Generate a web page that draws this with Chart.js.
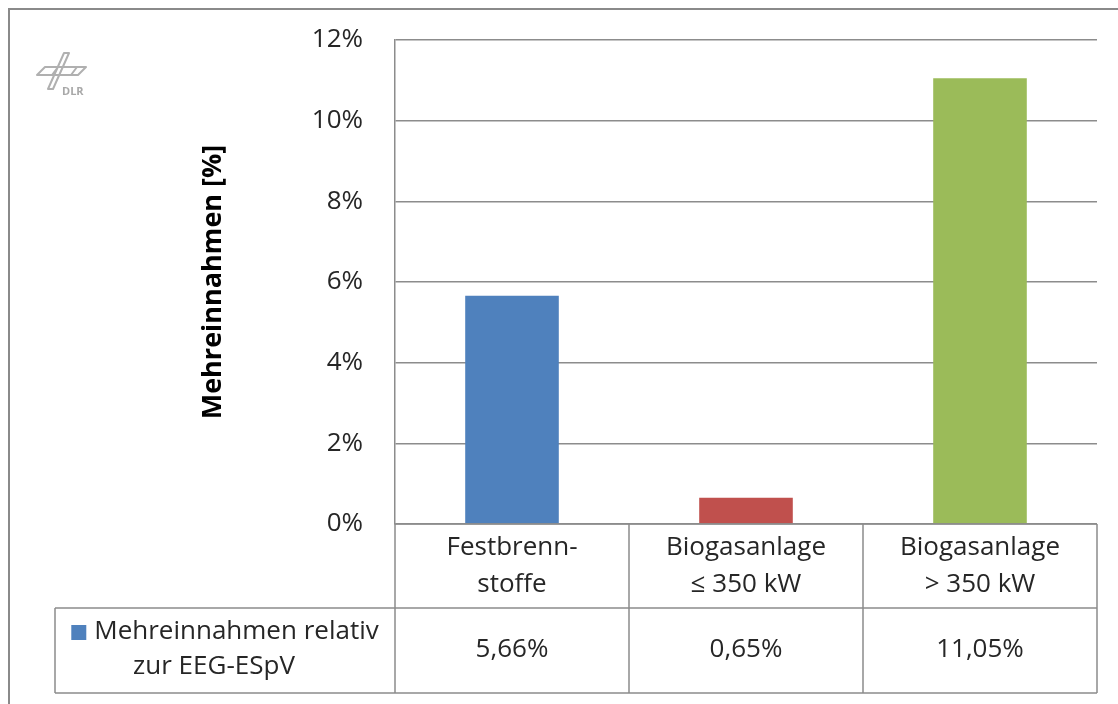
<!DOCTYPE html>
<html>
<head>
<meta charset="utf-8">
<script src="https://cdn.jsdelivr.net/npm/chart.js@4"></script>
<style>
  body { margin: 0; background: #fff; }
  #wrap { width: 1118px; height: 704px; position: relative; }
</style>
</head>
<body>
<div id="wrap"><canvas id="chart"></canvas></div>
<script>
// Mehreinnahmen relativ zur EEG-ESpV

const categories = [['Festbrenn-', 'stoffe'], ['Biogasanlage', '\u2264 350 kW'], ['Biogasanlage', '> 350 kW']];
const values = [5.66, 0.65, 11.05];
const barColors = ['#4F81BD', '#C0504D', '#9BBB59'];
const seriesName = ['Mehreinnahmen relativ', 'zur EEG-ESpV'];
const yTicks = [0, 2, 4, 6, 8, 10, 12];

const FONT = '"Open Sans", sans-serif';
const LINE = '#8c8c8c';
const TEXT = '#262626';

function fmt(v) { return v.toFixed(2).replace('.', ',') + '%'; }

// frame, DLR logo and the data table under the plot
const tablePlugin = {
    id: 'dataTable',
    afterDraw(chart) {
        const ctx = chart.ctx;
        const x = chart.scales.x;
        const area = chart.chartArea;
        const n = categories.length;
        const w = (x.right - x.left) / n;
        const top = area.bottom, mid = top + 84, bot = top + 169, legL = 55;

        ctx.save();
        // outer frame
        ctx.strokeStyle = '#8a8a8a';
        ctx.lineWidth = 2;
        ctx.strokeRect(9, 9, 1130, 720);

        // logo
        ctx.strokeStyle = '#b0b0b0';
        ctx.lineWidth = 2;
        ctx.lineJoin = 'round';
        ctx.beginPath();
        // wing
        ctx.moveTo(37, 75); ctx.lineTo(45, 67); ctx.lineTo(86, 67); ctx.lineTo(78, 75); ctx.closePath();
        // fuselage
        ctx.moveTo(64, 53); ctx.lineTo(69, 53); ctx.lineTo(53, 89); ctx.lineTo(48, 89); ctx.closePath();
        // wing segments
        ctx.moveTo(52, 75); ctx.lineTo(58, 67);
        ctx.moveTo(71, 75); ctx.lineTo(77, 67);
        ctx.stroke();
        ctx.fillStyle = '#a8a8a8';
        ctx.font = 'bold 11px ' + FONT;
        ctx.textAlign = 'left';
        ctx.textBaseline = 'middle';
        ctx.fillText('DLR', 62, 92);

        // table grid
        ctx.strokeStyle = LINE;
        ctx.lineWidth = 1.5;
        ctx.beginPath();
        ctx.moveTo(x.left, top); ctx.lineTo(x.right, top);
        ctx.moveTo(legL, mid); ctx.lineTo(x.right, mid);
        ctx.moveTo(legL, bot); ctx.lineTo(x.right, bot);
        ctx.moveTo(legL, mid); ctx.lineTo(legL, bot);
        for (let i = 0; i <= n; i++) {
            const px = Math.round(x.left + i * w);
            ctx.moveTo(px, top); ctx.lineTo(px, bot);
        }
        ctx.stroke();

        // category labels and values
        ctx.fillStyle = TEXT;
        ctx.font = '26px ' + FONT;
        ctx.textAlign = 'center';
        categories.forEach((lines, i) => {
            const cx = x.getPixelForValue(i);
            lines.forEach((t, j) => ctx.fillText(t, cx, top + 24 + j * 37));
            ctx.fillText(fmt(values[i]), cx, mid + 42);
        });

        // legend cell
        const lx = (legL + x.left) / 2;
        const w1 = ctx.measureText(seriesName[0]).width;
        const key = 15, gap = 8;
        const startX = lx - (w1 + key + gap) / 2;
        ctx.fillStyle = barColors[0];
        ctx.fillRect(startX, mid + 17, key, key);
        ctx.fillStyle = TEXT;
        ctx.textAlign = 'left';
        ctx.fillText(seriesName[0], startX + key + gap, mid + 24);
        ctx.textAlign = 'center';
        ctx.fillText(seriesName[1], lx - 11, mid + 59);
        ctx.restore();
    }
};

new Chart(document.getElementById('chart'), {
    type: 'bar',
    data: {
        labels: categories.map(c => c.join(' ')),
        datasets: [{
            label: seriesName.join(' '),
            data: values,
            backgroundColor: barColors,
            barPercentage: 0.4,
            categoryPercentage: 1.0
        }]
    },
    options: {
        responsive: true,
        maintainAspectRatio: false,
        animation: false,
        layout: { padding: { top: 40, right: 21, bottom: 180, left: 0 } },
        plugins: { legend: { display: false }, tooltip: { enabled: false } },
        scales: {
            x: { display: false },
            y: {
                min: 0, max: 12,
                afterFit: s => { s.width = 395; s.paddingTop = 0; s.paddingBottom = 0; },
                afterBuildTicks: s => { s.ticks = yTicks.map(v => ({ value: v })); },
                ticks: { padding: 32, color: TEXT, font: { family: FONT, size: 26 }, callback: v => v + '%' },
                grid: { color: '#8c8c8c', lineWidth: 1.5, drawTicks: false },
                border: { color: '#8c8c8c', width: 1.5 },
                title: {
                    display: true, text: 'Mehreinnahmen [%]', color: '#000',
                    font: { family: FONT, size: 27, weight: 'bold' },
                    padding: { top: 197, bottom: 0 }
                }
            }
        }
    },
    plugins: [tablePlugin]
});
</script>
</body>
</html>
